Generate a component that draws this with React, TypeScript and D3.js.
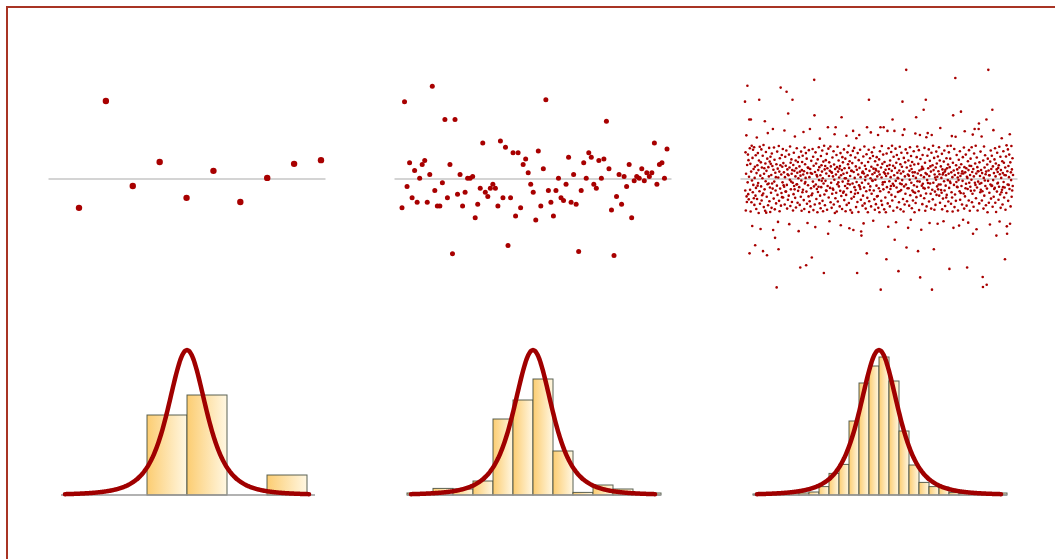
import React from "react";
import * as d3 from "d3";

// draws from the same heavy-tailed distribution
const sampleSmall = [-0.78, 2.11, -0.19, 0.46, -0.51, 0.22, -0.62, 0.03, 0.41, 0.51];

const sampleMid = [
	-0.78, 2.09, -0.2, 0.44, -0.51, 0.23, -0.63, 0.02, 0.39, 0.5,
	-0.63, 0.12, 2.51, -0.31, -0.73, -0.73, -0.1, 1.61, -0.51, 0.39,
	-2.02, 1.61, -0.41, 0.12, -0.73, -0.36, 0.02, 0.02, 0.07, -1.05,
	-0.68, -0.25, 0.97, -0.36, -0.47, -0.25, -0.14, -0.25, -0.73, 1.03,
	-0.51, 0.86, -1.8, -0.51, 0.71, -1.0, 0.71, -0.78, 0.39, 0.54,
	0.17, -0.14, -0.36, -1.11, 0.76, -0.73, 0.28, 2.14, -0.31, -0.63,
	-1.0, -0.31, 0.02, -0.51, -0.58, -0.14, 0.59, -0.63, 0.12, -0.68,
	-1.96, -0.31, 0.44, 0.02, 0.71, 0.59, -0.14, -0.25, 0.5, 0.02,
	0.54, 1.56, 0.28, -0.84, -2.07, -0.47, 0.12, -0.68, 0.07, -0.2,
	0.39, -1.05, -0.05, 0.07, 0.02, 0.28, -0.05, 0.17, 0.07, 0.17,
	0.97, -0.14, 0.39, 0.44, 0.02, 0.81,
];

const sampleLarge = [
	2.09, -.31, .72, -.85, .14, 1.18, -.47, -.62, .38, 2.52, -.09, .66, -.41, .51, -.55, .06, 1.61, -2.01, .83, -.29,
	.41, -.88, 1.61, .2, -.63, .9, -.04, -1.27, .57, -.36, .79, -.16, .27, -.52, .86, -.7, .03, .33, -1.79, -.45,
	.64, -.24, -.81, .16, 1.12, -.54, .37, -.18, .7, -.11, .24, -.92, .5, 2.14, -.33, .87, -.67, .09, -1.35, .45,
	-.2, .8, -.58, .31, -.44, .02, .63, -1.95, -.39, .92, -.76, .14, .29, -.28, 1.56, -.86, .42, -.06, .73, -.91,
	.22, -.48, -2.06, .55, -.14, 1.24, -.71, .32, -.12, .07, .84, -.6, .47, -.23, -.89, .6, .41, -.37, .11, -.78,
	.69, -.12, .35, -.26, 1.35, -1.38, .25, -.53, .85, -.07, .52, -.82, -1.59, .17, -.31, .05, -.66, .4, -2.93, -.18,
	.74, -.43, .28, -1.16, .04, -1.9, .89, -.59, .2, -.87, .56, -.26, .37, 2.47, -.72, .12, -.38, .65, -.49, .33,
	-.09, .81, -.5, .43, -.17, .18, -.21, 1.31, -.69, .05, .6, -.34, .36, -.34, .77, 2.36, -.16, -.8, .26, .13,
	-.56, 1.77, .1, -.45, .66, -1.22, .31, -.02, .88, -.73, .44, -.28, -.07, .53, .14, -.62, .24, 2.14, -.1, -.85,
	.38, -.41, .71, -.19, .22, -.28, 1.15, -.51, .07, .5, -.77, .29, -.15, .83, -.14, .17, -.64, .46, -.32, .02,
	-1.41, .59, -.22, .34, -.7, .2, -2.39, .09, -.48, .74, -.04, -.86, .24, .46, -.36, .63, -.29, .12, 1.27, -.57,
	.21, -.81, .85, -.12, .4, -.08, .03, .7, -2.33, -.34, .55, -.67, .16, -1.19, .31, -.17, .3, -.47, .78, -.89,
	.05, -.6, 1.35, .27, -.74, .16, -.25, .49, -.44, -2.12, .14, -.39, .81, -.07, .6, -.84, .36, -.2, 2.68, 1.72,
	-.69, .19, -1.3, .72, -.15, .42, -.54, .11, -.27, .07, -.9, .53, -.35, .24, -.21, .86, -.03, .32, -.66, 1.09,
	-.45, .1, -.79, .62, -.22, .37, -.05, .2, .77, -.59, .02, -.87, .47, -.12, -2.54, .9, -.42, .26, -.71, .35,
	-.05, .51, -.31, .15, -.32, .68, -.83, .29, -.19, 1.4, -1.48, .82, -.5, .08, .45, -1.14, .22, -.24, .88, -.63,
	.34, -.1, .19, -.78, .17, -.4, .58, -.26, .07, -.29, .75, -.69, .39, -.02, 1.21, -.92, .27, -.52, 1.4, .12,
	-.37, .65, -.88, .32, -.14, .87, -.61, .2, -.09, .5, -.2, .04, .28, -.74, .35, -.32, .7, -1.25, .1, -.46,
	1.67, .24, -.81, .59, -.07, .45, -.37, .14, -.34, .8, -.57, .29, .02, -.19, .55, -.87, .02, -.43, 1.17, -.7,
	.17, -.25, .72, -.13, .4, -.05, .9, -.65, .3, -1.33, .48, -.15, .08, -.84, .64, -.35, .22, -.53, .22, -.91,
	.43, -.12, .76, 1.3, -1.38, .19, -.48, .84, -.22, .03, -.4, .58, -.3, .34, -.76, 1.1, -.08, .25, -2.54, -.62,
	.7, -.38, .12, -.89, .51, -.17, 1.19, .3, -.21, .79, -.27, .05, -.56, -1.42, -1.53, .43, -.1, .17, -.72, .2,
	-.45, .61, -1.2, .15, -.23, .88, -.66, .36, -.03, .06, -.8, .27, -.33, .67, -2.01, 1.4, -.51, .1, -.9, .46,
	-.13, .79, 2.14, -.6, .22, -.3, .56, -.2, .02, 1.26, -.74, .33, -.4, .72, -.04, .13, -.05, .62, -1.13, .28,
	-.31, .85, -.55, .17, -.83, .48, -.02, .27, -.68, .23, -.18, .59, -.47, .07, .38, -.46, 1.19, -.78, .2, -.25,
	.53, -.9, .12, .75, -.33, 1.4, -2.99, .31, -.59, .04, .89, -.7, .41, -.15, -.09, .66, -.28, 1.4, .18, -.82,
	.46, -.08, .14, -.5, .25, -.9, .08, -2.17, .69, -.22, .35, 1.3, -.66, .15, -1.29, .83, -.36, .27, -.06, .38,
	-.74, .5, -.27, .05, -.19, .73, -.43, .22, .9, -.58, 1.61, -.13, .36, -.86, .6, -.18, .1, 1.3, -1.64, .3,
	-.48, .82, -.05, -1.17, .44, -.23, .65, -.77, .17, .03, -.35, .02, -2.49, .54, -.63, .23, -.33, .87, -.12, .4,
	-.82, .15, -.3, .71, -.14, .33, -.03, 2.09, 1.19, -.54, .2, -.88, .57, -.2, 1.34, -.69, .07, .45, -.4, .8,
	-.15, 2.95, -1.85, .31, -.6, .7, -.25, .12, -1.32, .5, -.25, .09, -.72, .22, -.02, .86, -.44, .36, -1.1, .62,
	-.1, .27, -.79, .46, -.31, .18, -.58, .08, -.35, .75, -.17, .39, -.9, .18, -.37, 1.23, -.65, .03, 1.67, -.49,
	.59, -.21, .88, -.06, .15, -1.95, .41, -.33, .78, -.84, .23, -.07, 1.19, -2.66, .54, -.45, .1, -1.37, .26, -.18,
	.33, -.68, .65, -.13, .28, -.24, 1.87, .05, -.52, .84, -.26, .44, -.86, .16, 2.14, -.39, 1.13, -.74, .13, -.03,
	.63, 1.24, -.11, .29, -.23, .8, -.61, .08, -1.19, .49, -.12, .34, -.4, .2, -.8, .71, 1.19, -2.99, -.29, .37,
	-.55, .9, -.1, .24, -1.9, .57, -.83, .12, -.34, .04, -.7, .31, -.02, .74, -.43, .42, -.2, .06, -1.21, .61,
	-.28, .21, -.15, .86, -.45, .13, .5, -.64, 1.38, -.15, .34, -.3, .03, -.37, .68, -.82, .26, .12, -.53, .16,
	-1.14, .47, -.06, .77, -.31, .2, -.73, .25, -.18, .1, -.5, .56, -.43, .29, -.87, .89, -.03, .39, -.61, .14,
	.72, -.24, -2.43, .32, -.07, .55, -.11, .9, -.67, .18, -.36, 1.16, -.5, .05, -.88, .44, 1.72, -1.32, .23, -.16,
	.81, -.76, .11, -.42, 2.73, 1.14, -.59, .37, -.08, .65, -.21, .26, -.22, .04, -.85, .16, -.03, .52, -1.26, .31,
	-.33, .75, -.56, .08, -.38, 1.82, .4, -.19, .15, -.69, .21, -.05, .59, -1.1, .15, -.39, .85, -.8, .32, 1.29,
	-.47, .18, -.25, .66, -.13, .29, -.72, .06, -2.39, .03, -.27, .48, -1.18, .24, -.58, .78, -.1, .36, -.86, .11,
	-.21, .55, -.32, .35, -.02, .86, -.63, .19, -.4, 1.2, -1.48, .27, -.75, .07, .69, -.31, 1.35, -.1, .42, -.16,
	.9, -.52, .15, -1.36, .58, -.23, .32, -.85, .21, -.07, .21, 1.35, 1.5, -.66, .45, -.13, .08, -.36, .74, -.29,
	.24, -.11, 1.15, -.58, .16, -.33, -2.65, -2.92, .5, -.8, .03, .88, -.45, .31, -.04, .64, -.19, .13, -.71, .2,
	1.61, -2.86, -.26, .39, -.9, .55, -.05, 2.95, .23, -.64, .1, -.37, .1, -1.23, .47, -.15, .77, -.53, .27, -.19,
	.63, -.18, 1.87, -.75, .34, -.03, 1.32, -.48, .16, -.27, .53, -.24, .83, -.64, .07, .42, -.89, -1.53, .26, -.34,
	.71, -.12, .19, -.1, .3, -.56, .37, -.21, .87, -1.15, .13, -.42, .6, -.78, .24, .03, -.36, 1.1, -.29, .48,
	-.69, .16, -.22, .75, -.08, .44, -.5, .11, -.23, -2.17, .31, -.83, .1, .61, -.38, .91, -1.28, -1.48, .21, -.15,
	.8, -.59, .35, -.16, .05, .66, -.27, 1.21, -1.21, .45, -.74, .18, -.03, .89, -.48, .26, -.31, .56, -.19, .11,
];

// histogram bins (value edges) and bar heights as density
const histSmallEdges = [-3, -2, -1, 0, 1, 2, 3];
const histSmallDensity = [0, 0, 0.4, 0.5, 0, 0.1];

const histMidEdges = [-3.15, -3, -2.5, -2, -1.5, -1, -0.5, 0, 0.5, 1, 1.5, 2, 2.5, 3, 3.2];
const histMidDensity = [0.01, 0, 0.033, 0.03, 0.07, 0.38, 0.475, 0.58, 0.22, 0.013, 0.05, 0.03, 0, 0.01];

const histLargeEdges = [
	-3.15, -3, -2.75, -2.5, -2.25, -2, -1.75, -1.5, -1.25, -1, -0.75, -0.5, -0.25, 0,
	0.25, 0.5, 0.75, 1, 1.25, 1.5, 1.75, 2, 2.25, 2.5, 2.75, 3, 3.2,
];
const histLargeDensity = [
	0.005, 0.005, 0.005, 0.008, 0.01, 0.01, 0.015, 0.042, 0.108, 0.153, 0.37, 0.56, 0.645,
	0.69, 0.57, 0.32, 0.15, 0.063, 0.042, 0.04, 0.012, 0.008, 0.008, 0.005, 0.008, 0.01,
];

// reference curve: Student t
const curveDf = 3;
const curveScale = 0.507;

function lgamma(z: number): number {
	// Lanczos
	const g = 7;
	const p = [0.99999999999980993, 676.5203681218851, -1259.1392167224028, 771.32342877765313,
		-176.61502916214059, 12.507343278686905, -0.13857109526572012, 9.9843695780195716e-6, 1.5056327351493116e-7];
	if (z < 0.5) return Math.log(Math.PI / Math.sin(Math.PI * z)) - lgamma(1 - z);
	z -= 1;
	let x = p[0];
	for (let i = 1; i < g + 2; i++) x += p[i] / (z + i);
	const t = z + g + 0.5;
	return 0.5 * Math.log(2 * Math.PI) + (z + 0.5) * Math.log(t) - t + Math.log(x);
}

const tDensity = (x: number) => {
	const v = curveDf;
	const z = x / curveScale;
	const c = Math.exp(lgamma((v + 1) / 2) - lgamma(v / 2)) / (Math.sqrt(v * Math.PI) * curveScale);
	return c * Math.pow(1 + (z * z) / v, -(v + 1) / 2);
};

const RED = "#a80000";
const panelCenter = d3.scaleLinear().domain([0, 2]).range([187, 879]);
const yTop = d3.scaleLinear().domain([-3, 3]).range([290, 68]);
const yHist = d3.scaleLinear().domain([0, 0.725]).range([495, 350]);

const topPanels = [
	{ values: sampleSmall, r: 3.2, padLeft: 108 },
	{ values: sampleMid, r: 2.5, padLeft: 131 },
	{ values: sampleLarge, r: 1.3, padLeft: 134 },
];

const histPanels = [
	{ edges: histSmallEdges, density: histSmallDensity },
	{ edges: histMidEdges, density: histMidDensity },
	{ edges: histLargeEdges, density: histLargeDensity },
];

const TopPanel = ({ k, values, r, padLeft }) => {
	const c = panelCenter(k);
	const x = d3.scaleLinear().domain([0, values.length - 1]).range([c - padLeft, c + 134]);
	return (
		<g>
			<line x1={c - 138.5} x2={c + 138.5} y1={yTop(0)} y2={yTop(0)} stroke="#aaa" strokeWidth={1.2} />
			{values.map((v, i) => (
				<circle key={i} cx={x(i)} cy={yTop(v)} r={r} fill={RED} />
			))}
		</g>
	);
};

const HistPanel = ({ k, edges, density }) => {
	const c = panelCenter(k);
	const x = d3.scaleLinear().domain([-3.15, 3.2]).range([c - 126, c + 128]);
	const pts = d3.range(-3.05, 3.051, 0.02);
	const line = d3
		.line<number>()
		.x((d) => x(d))
		.y((d) => yHist(tDensity(d)))
		.curve(d3.curveBasis);
	return (
		<g>
			{density.map((d, i) => (
				<rect
					key={i}
					x={x(edges[i])}
					y={yHist(d)}
					width={x(edges[i + 1]) - x(edges[i])}
					height={yHist(0) - yHist(d)}
					fill="url(#barFill)"
					stroke="#3e4638"
					strokeOpacity={0.85}
					strokeWidth={1}
				/>
			))}
			<line x1={x(-3.15)} x2={x(3.2)} y1={yHist(0)} y2={yHist(0)} stroke="#999" strokeWidth={1.3} />
			<path d={line(pts)} fill="none" stroke="#a00000" strokeWidth={4.5} strokeLinecap="round" />
		</g>
	);
};

export default function App() {
	return (
		<div style={{ position: "fixed", left: 0, top: 0, right: 0, bottom: 0, overflow: "hidden", background: "#fff" }}>
			<svg width={1100} height={600} style={{ display: "block" }}>
				<defs>
					<linearGradient id="barFill" x1="0" x2="1" y1="0" y2="0">
						<stop offset="0%" stopColor="#fccd72" />
						<stop offset="100%" stopColor="#fff7e2" />
					</linearGradient>
				</defs>
				<rect x={7} y={7} width={1080} height={580} fill="none" stroke="#a83424" strokeWidth={2} />
				{topPanels.map((p, k) => (
					<TopPanel key={k} k={k} {...p} />
				))}
				{histPanels.map((p, k) => (
					<HistPanel key={k} k={k} {...p} />
				))}
			</svg>
		</div>
	);
}
